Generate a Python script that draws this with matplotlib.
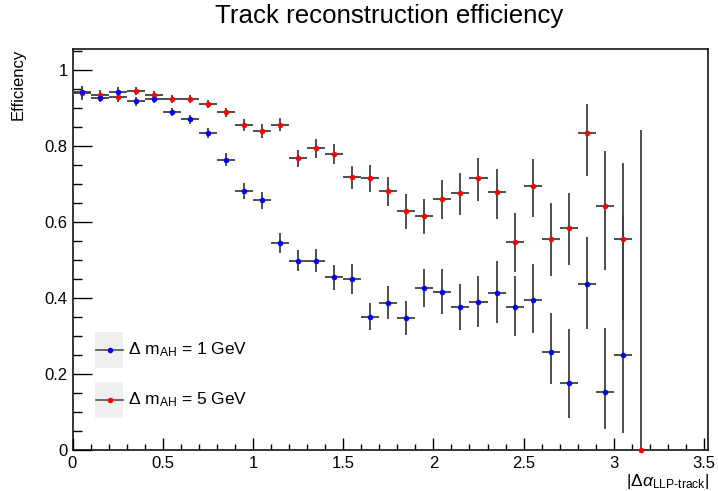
import matplotlib
matplotlib.use("Agg")
import matplotlib.pyplot as plt
from matplotlib.lines import Line2D
from matplotlib.patches import Rectangle
from matplotlib.ticker import MultipleLocator
import numpy as np

plt.rcParams['font.family'] = ['Liberation Sans', 'DejaVu Sans']
plt.rcParams['mathtext.fontset'] = 'custom'
plt.rcParams['mathtext.rm'] = 'Liberation Sans'
plt.rcParams['mathtext.it'] = 'Liberation Sans:italic'
plt.rcParams['mathtext.bf'] = 'Liberation Sans:bold'

# ---------------- data ----------------
title = "Track reconstruction efficiency"
x_label = r"$|\Delta\alpha_{\mathrm{LLP\text{-}track}}|$"
y_label = "Efficiency"
labels = [r"$\Delta$ m$_{\mathrm{AH}}$ = 1 GeV", r"$\Delta$ m$_{\mathrm{AH}}$ = 5 GeV"]
bin_half_width = 0.05

x_1gev = [0.05, 0.15, 0.25, 0.35, 0.45, 0.55, 0.65, 0.75, 0.85, 0.95,
          1.05, 1.15, 1.25, 1.35, 1.45, 1.55, 1.65, 1.75, 1.85, 1.95,
          2.05, 2.15, 2.25, 2.35, 2.45, 2.55, 2.65, 2.75, 2.85, 2.95, 3.05]
eff_1gev = [0.941, 0.927, 0.943, 0.917, 0.923, 0.889, 0.870, 0.834, 0.764, 0.682,
            0.657, 0.544, 0.498, 0.498, 0.455, 0.450, 0.350, 0.388, 0.346, 0.425,
            0.415, 0.375, 0.389, 0.414, 0.375, 0.395, 0.259, 0.177, 0.436, 0.153, 0.250]
err_up_1gev = [0.016, 0.012, 0.012, 0.012, 0.010, 0.010, 0.012, 0.014, 0.017, 0.021,
               0.022, 0.027, 0.028, 0.030, 0.033, 0.039, 0.037, 0.044, 0.047, 0.050,
               0.062, 0.061, 0.068, 0.083, 0.083, 0.094, 0.102, 0.142, 0.125, 0.169, 0.368]
err_dn_1gev = [0.020, 0.012, 0.012, 0.012, 0.010, 0.010, 0.012, 0.014, 0.017, 0.021,
               0.022, 0.027, 0.028, 0.030, 0.033, 0.039, 0.034, 0.044, 0.043, 0.050,
               0.058, 0.058, 0.065, 0.081, 0.076, 0.088, 0.085, 0.094, 0.118, 0.098, 0.206]

x_5gev = [0.05, 0.15, 0.25, 0.35, 0.45, 0.55, 0.65, 0.75, 0.85, 0.95,
          1.05, 1.15, 1.25, 1.35, 1.45, 1.55, 1.65, 1.75, 1.85, 1.95,
          2.05, 2.15, 2.25, 2.35, 2.45, 2.55, 2.65, 2.75, 2.85, 2.95, 3.05, 3.15]
eff_5gev = [0.940, 0.934, 0.928, 0.944, 0.934, 0.923, 0.923, 0.911, 0.889, 0.856,
            0.839, 0.856, 0.767, 0.794, 0.780, 0.718, 0.716, 0.682, 0.630, 0.615,
            0.660, 0.675, 0.715, 0.678, 0.548, 0.695, 0.556, 0.584, 0.833, 0.643, 0.556, 0.000]
err_up_5gev = [0.014, 0.012, 0.012, 0.010, 0.010, 0.010, 0.010, 0.010, 0.012, 0.016,
               0.018, 0.018, 0.023, 0.025, 0.026, 0.030, 0.033, 0.037, 0.044, 0.045,
               0.051, 0.053, 0.052, 0.061, 0.075, 0.070, 0.093, 0.092, 0.078, 0.144, 0.198, 0.841]
err_dn_5gev = [0.014, 0.012, 0.012, 0.010, 0.010, 0.010, 0.010, 0.010, 0.012, 0.016,
               0.018, 0.018, 0.023, 0.025, 0.028, 0.031, 0.037, 0.039, 0.048, 0.047,
               0.053, 0.057, 0.059, 0.069, 0.079, 0.081, 0.097, 0.096, 0.112, 0.169, 0.214, 0.000]

x_ticks = [0, 0.5, 1, 1.5, 2, 2.5, 3, 3.5]
x_tick_labels = ["0", "0.5", "1", "1.5", "2", "2.5", "3", "3.5"]
y_ticks = [0, 0.2, 0.4, 0.6, 0.8, 1.0]
y_tick_labels = ["0", "0.2", "0.4", "0.6", "0.8", "1"]

# ---------------- figure ----------------
W, H = 718, 491
fig = plt.figure(figsize=(W / 100, H / 100), dpi=100)

def fx(px):
    return px / W

def fy(py):
    return 1 - py / H

ax_l, ax_r, ax_t, ax_b = 72.5, 708, 49, 450
ax = fig.add_axes([fx(ax_l), fy(ax_b), fx(ax_r - ax_l), fy(ax_t) - fy(ax_b)])

err_color = '#404040'
common = dict(fmt='o', markersize=4, ecolor=err_color, elinewidth=1.3,
              capsize=3, capthick=1.2, markeredgewidth=0, clip_on=False, zorder=3)

ax.errorbar(x_5gev, eff_5gev, xerr=bin_half_width,
            yerr=[err_dn_5gev, err_up_5gev], color='#ff0000', **common)
ax.errorbar(x_1gev, eff_1gev, xerr=bin_half_width,
            yerr=[err_dn_1gev, err_up_1gev], color='#0000ff', **common)

ax.set_xlim(0, 3.522)
ax.set_ylim(0, 1.055)
ax.set_xticks(x_ticks)
ax.set_xticklabels(x_tick_labels)
ax.set_yticks(y_ticks)
ax.set_yticklabels(y_tick_labels)
ax.xaxis.set_minor_locator(MultipleLocator(0.1))
ax.yaxis.set_minor_locator(MultipleLocator(0.05))
ax.tick_params(axis='x', which='major', direction='in', length=8.6, width=1.0,
               labelsize=12, pad=4, top=False)
ax.tick_params(axis='x', which='minor', direction='in', length=4.3, width=1.0, top=False)
ax.tick_params(axis='y', which='major', direction='in', length=13.7, width=1.0,
               labelsize=12, pad=3.5, right=False)
ax.tick_params(axis='y', which='minor', direction='in', length=6.8, width=1.0, right=False)
for s in ax.spines.values():
    s.set_linewidth(1.1)
    s.set_color('black')

# title and axis labels
fig.text(fx(389), fy(23), title, ha='center', va='baseline', fontsize=18.6)
fig.text(fx(18.5), fy(ax_t), y_label, rotation=90, ha='center', va='top', fontsize=12)
fig.text(fx(709), fy(486), x_label, ha='right', va='baseline', fontsize=12.5)

# legend (ROOT-like)
series_colors = ['#0000ff', '#ff0000']
legend_rows = [(332, 368, 350), (382, 418, 400)]
for (top, bot, yc), lab, col in zip(legend_rows, labels, series_colors):
    fig.patches.append(Rectangle((fx(95), fy(bot)), fx(123 - 95), fy(top) - fy(bot),
                                 transform=fig.transFigure, facecolor='#efefef',
                                 edgecolor='none', zorder=4))
    fig.lines.append(Line2D([fx(96), fx(123)], [fy(yc), fy(yc)], transform=fig.transFigure,
                            color='#505050', linewidth=1.2, zorder=5))
    fig.lines.append(Line2D([fx(109.5)], [fy(yc)], transform=fig.transFigure,
                            marker='o', markersize=4, markeredgewidth=0, color=col,
                            linestyle='none', zorder=6))
    fig.text(fx(127.5), fy(yc), lab, ha='left', va='center', fontsize=12.5, zorder=6)

fig.savefig("out.png", dpi=100)
